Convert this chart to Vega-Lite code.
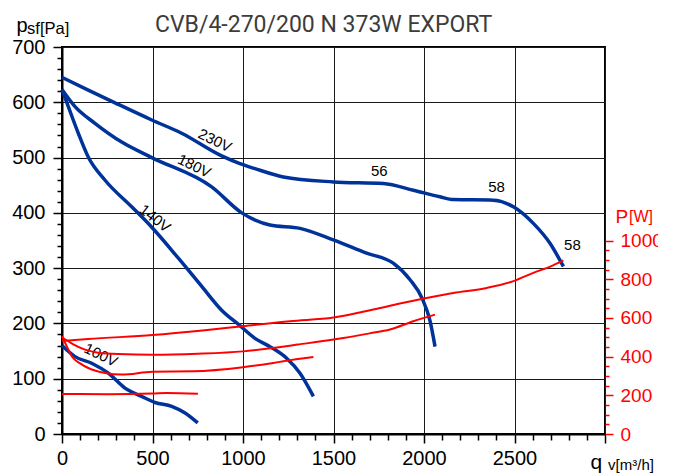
{
  "$schema": "https://vega.github.io/schema/vega-lite/v6.json",
  "width": 543,
  "height": 387,
  "autosize": {"type": "none"},
  "padding": {"left": 62, "top": 47, "right": 53, "bottom": 41},
  "background": "#ffffff",
  "config": {
    "view": {"stroke": "#000000", "strokeWidth": 2},
    "axis": {"labelFont": "Liberation Sans", "titleFont": "Liberation Sans", "titleFontWeight": "normal", "labelOverlap": false, "labelFlush": false, "labelBound": false}
  },
  "title": {
    "text": "CVB/4-270/200 N 373W EXPORT",
    "anchor": "start",
    "frame": "group",
    "dx": 93,
    "dy": 40,
    "offset": 0,
    "baseline": "alphabetic",
    "font": "Roboto",
    "fontSize": 23,
    "fontWeight": "normal",
    "color": "#3c3c3c"
  },
  "datasets": {
    "pressure": [
      {"series": "230V", "q": 0, "p": 645}, {"series": "230V", "q": 145, "p": 622}, {"series": "230V", "q": 293, "p": 599}, {"series": "230V", "q": 496, "p": 568}, {"series": "230V", "q": 661, "p": 544}, {"series": "230V", "q": 882, "p": 503}, {"series": "230V", "q": 983, "p": 489}, {"series": "230V", "q": 1066, "p": 480}, {"series": "230V", "q": 1223, "p": 465}, {"series": "230V", "q": 1499, "p": 456}, {"series": "230V", "q": 1775, "p": 453}, {"series": "230V", "q": 1941, "p": 441}, {"series": "230V", "q": 2088, "p": 429}, {"series": "230V", "q": 2162, "p": 424}, {"series": "230V", "q": 2383, "p": 423}, {"series": "230V", "q": 2494, "p": 411}, {"series": "230V", "q": 2604, "p": 381}, {"series": "230V", "q": 2696, "p": 345}, {"series": "230V", "q": 2770, "p": 303},
      {"series": "180V", "q": 0, "p": 623}, {"series": "180V", "q": 72, "p": 592}, {"series": "180V", "q": 182, "p": 562}, {"series": "180V", "q": 330, "p": 528}, {"series": "180V", "q": 496, "p": 500}, {"series": "180V", "q": 827, "p": 447}, {"series": "180V", "q": 993, "p": 400}, {"series": "180V", "q": 1149, "p": 378}, {"series": "180V", "q": 1315, "p": 372}, {"series": "180V", "q": 1499, "p": 351}, {"series": "180V", "q": 1683, "p": 327}, {"series": "180V", "q": 1830, "p": 309}, {"series": "180V", "q": 1923, "p": 279}, {"series": "180V", "q": 1990, "p": 245}, {"series": "180V", "q": 2033, "p": 205}, {"series": "180V", "q": 2061, "p": 158},
      {"series": "140V", "q": 0, "p": 623}, {"series": "140V", "q": 35, "p": 592}, {"series": "140V", "q": 90, "p": 544}, {"series": "140V", "q": 145, "p": 501}, {"series": "140V", "q": 238, "p": 459}, {"series": "140V", "q": 385, "p": 411}, {"series": "140V", "q": 496, "p": 374}, {"series": "140V", "q": 643, "p": 318}, {"series": "140V", "q": 772, "p": 267}, {"series": "140V", "q": 882, "p": 224}, {"series": "140V", "q": 983, "p": 196}, {"series": "140V", "q": 1066, "p": 173}, {"series": "140V", "q": 1149, "p": 158}, {"series": "140V", "q": 1241, "p": 137}, {"series": "140V", "q": 1315, "p": 110}, {"series": "140V", "q": 1389, "p": 68},
      {"series": "100V", "q": 0, "p": 160}, {"series": "100V", "q": 72, "p": 140}, {"series": "100V", "q": 164, "p": 128}, {"series": "100V", "q": 256, "p": 110}, {"series": "100V", "q": 348, "p": 83}, {"series": "100V", "q": 440, "p": 68}, {"series": "100V", "q": 514, "p": 57}, {"series": "100V", "q": 606, "p": 50}, {"series": "100V", "q": 680, "p": 38}, {"series": "100V", "q": 750, "p": 20}
    ],
    "power": [
      {"series": "230V", "q": 0, "w": 480}, {"series": "230V", "q": 145, "w": 491}, {"series": "230V", "q": 500, "w": 511}, {"series": "230V", "q": 790, "w": 536}, {"series": "230V", "q": 1000, "w": 557}, {"series": "230V", "q": 1260, "w": 583}, {"series": "230V", "q": 1500, "w": 602}, {"series": "230V", "q": 1720, "w": 643}, {"series": "230V", "q": 1867, "w": 674}, {"series": "230V", "q": 2000, "w": 700}, {"series": "230V", "q": 2162, "w": 729}, {"series": "230V", "q": 2346, "w": 755}, {"series": "230V", "q": 2494, "w": 790}, {"series": "230V", "q": 2604, "w": 833}, {"series": "230V", "q": 2700, "w": 866}, {"series": "230V", "q": 2770, "w": 897},
      {"series": "180V", "q": 0, "w": 500}, {"series": "180V", "q": 60, "w": 465}, {"series": "180V", "q": 127, "w": 436}, {"series": "180V", "q": 200, "w": 420}, {"series": "180V", "q": 311, "w": 413}, {"series": "180V", "q": 500, "w": 410}, {"series": "180V", "q": 750, "w": 415}, {"series": "180V", "q": 1000, "w": 427}, {"series": "180V", "q": 1167, "w": 445}, {"series": "180V", "q": 1300, "w": 462}, {"series": "180V", "q": 1500, "w": 488}, {"series": "180V", "q": 1700, "w": 520}, {"series": "180V", "q": 1812, "w": 540}, {"series": "180V", "q": 1941, "w": 583}, {"series": "180V", "q": 2061, "w": 617},
      {"series": "140V", "q": 0, "w": 505}, {"series": "140V", "q": 28, "w": 450}, {"series": "140V", "q": 54, "w": 402}, {"series": "140V", "q": 100, "w": 365}, {"series": "140V", "q": 145, "w": 341}, {"series": "140V", "q": 238, "w": 315}, {"series": "140V", "q": 330, "w": 307}, {"series": "140V", "q": 500, "w": 322}, {"series": "140V", "q": 727, "w": 324}, {"series": "140V", "q": 1000, "w": 345}, {"series": "140V", "q": 1167, "w": 367}, {"series": "140V", "q": 1223, "w": 376}, {"series": "140V", "q": 1389, "w": 398},
      {"series": "100V", "q": 0, "w": 207}, {"series": "100V", "q": 250, "w": 206}, {"series": "100V", "q": 500, "w": 209}, {"series": "100V", "q": 578, "w": 212}, {"series": "100V", "q": 751, "w": 208}
    ]
  },
  "resolve": {"scale": {"y": "independent"}, "axis": {"y": "independent"}},
  "layer": [
    {
      "layer": [
        {
          "data": {"name": "pressure"},
          "mark": {"type": "line", "color": "#00339a", "strokeWidth": 3.5, "interpolate": "monotone", "strokeCap": "butt"},
          "encoding": {
            "x": {
              "field": "q", "type": "quantitative",
              "scale": {"domain": [0, 3000], "nice": false, "zero": false},
              "axis": {
                "values": [0,100,200,300,400,500,600,700,800,900,1000,1100,1200,1300,1400,1500,1600,1700,1800,1900,2000,2100,2200,2300,2400,2500,2600,2700,2800,2900,3000],
                "tickCount": 1000,
                "format": "d",
                "labelExpr": "datum.value % 500 === 0 && datum.value < 3000 ? datum.label : ''",
                "tickSize": {"condition": {"test": "datum.value % 500 === 0", "value": 9}, "value": 6},
                "tickColor": "#000000", "tickWidth": 1.5,
                "domainColor": "#000000", "domainWidth": 2,
                "grid": true, "gridColor": "#1a1a1a", "gridWidth": 1,
                "gridOpacity": {"condition": {"test": "datum.value % 500 === 0", "value": 1}, "value": 0},
                "labelFontSize": 20, "labelColor": "#000000", "labelPadding": 5,
                "title": "q", "titleFontSize": 21, "titleColor": "#000000",
                "titleX": 528, "titleY": 34, "titleAlign": "left", "titleBaseline": "alphabetic", "titleAnchor": null
              }
            },
            "y": {
              "field": "p", "type": "quantitative",
              "scale": {"domain": [0, 700], "nice": false},
              "axis": {
                "orient": "left",
                "values": [0,20,40,60,80,100,120,140,160,180,200,220,240,260,280,300,320,340,360,380,400,420,440,460,480,500,520,540,560,580,600,620,640,660,680,700],
                "tickCount": 1000,
                "format": "d",
                "labelExpr": "datum.value % 100 === 0 ? datum.label : ''",
                "tickSize": {"condition": {"test": "datum.value % 100 === 0", "value": 9}, "value": 5},
                "tickColor": "#000000", "tickWidth": 1.5,
                "domainColor": "#000000", "domainWidth": 2,
                "grid": true, "gridColor": "#1a1a1a", "gridWidth": 1,
                "gridOpacity": {"condition": {"test": "datum.value % 100 === 0", "value": 1}, "value": 0},
                "labelFontSize": 20, "labelColor": "#000000", "labelPadding": 8,
                "title": "p", "titleFontSize": 20, "titleColor": "#000000", "titleAngle": 0,
                "titleX": -46, "titleY": -16, "titleAlign": "left", "titleBaseline": "alphabetic", "titleAnchor": null
              }
            },
            "detail": {"field": "series"}
          }
        },
        {
          "data": {"values": [{"label": "sf[Pa]", "q": -193, "p": 723}]},
          "mark": {"type": "text", "font": "Liberation Sans", "fontSize": 16.5, "align": "left", "baseline": "alphabetic", "color": "#000000"},
          "encoding": {"x": {"field": "q", "type": "quantitative"}, "y": {"field": "p", "type": "quantitative"}, "text": {"field": "label"}}
        },
        {
          "data": {"values": [{"label": "v[m³/h]", "q": 3017, "p": -66}]},
          "mark": {"type": "text", "font": "Liberation Sans", "fontSize": 15, "align": "left", "baseline": "alphabetic", "color": "#000000"},
          "encoding": {"x": {"field": "q", "type": "quantitative"}, "y": {"field": "p", "type": "quantitative"}, "text": {"field": "label"}}
        },
        {
          "data": {"values": [{"label": "[W]", "q": 3133, "p": 384}]},
          "mark": {"type": "text", "font": "Liberation Sans", "fontSize": 16, "align": "left", "baseline": "alphabetic", "color": "#ff0000"},
          "encoding": {"x": {"field": "q", "type": "quantitative"}, "y": {"field": "p", "type": "quantitative"}, "text": {"field": "label"}}
        },
        {
          "data": {"values": [{"label": "230V", "q": 845, "p": 531}, {"label": "180V", "q": 731, "p": 485}, {"label": "100V", "q": 215, "p": 143}]},
          "mark": {"type": "text", "font": "Liberation Sans", "fontSize": 15, "align": "center", "baseline": "middle", "angle": 26, "color": "#000000"},
          "encoding": {"x": {"field": "q", "type": "quantitative"}, "y": {"field": "p", "type": "quantitative"}, "text": {"field": "label"}}
        },
        {
          "data": {"values": [{"label": "140V", "q": 514, "p": 390}]},
          "mark": {"type": "text", "font": "Liberation Sans", "fontSize": 15, "align": "center", "baseline": "middle", "angle": 38, "color": "#000000"},
          "encoding": {"x": {"field": "q", "type": "quantitative"}, "y": {"field": "p", "type": "quantitative"}, "text": {"field": "label"}}
        },
        {
          "data": {"values": [{"label": "56", "q": 1753, "p": 476}, {"label": "58", "q": 2401, "p": 446}, {"label": "58", "q": 2820, "p": 341}]},
          "mark": {"type": "text", "font": "Liberation Sans", "fontSize": 15, "align": "center", "baseline": "middle", "color": "#000000"},
          "encoding": {"x": {"field": "q", "type": "quantitative"}, "y": {"field": "p", "type": "quantitative"}, "text": {"field": "label"}}
        }
      ]
    },
    {
      "data": {"name": "power"},
      "mark": {"type": "line", "color": "#ff0000", "strokeWidth": 2, "interpolate": "monotone"},
      "encoding": {
        "x": {"field": "q", "type": "quantitative"},
        "y": {
          "field": "w", "type": "quantitative",
          "scale": {"domain": [0, 2000], "nice": false},
          "axis": {
            "orient": "right",
            "values": [0,50,100,150,200,250,300,350,400,450,500,550,600,650,700,750,800,850,900,950,1000],
            "tickCount": 1000,
            "format": "d",
            "labelExpr": "datum.value % 200 === 0 ? datum.label : ''",
            "tickSize": {"condition": {"test": "datum.value % 200 === 0", "value": 8}, "value": 4},
            "tickColor": "#ff0000", "tickWidth": 1.5,
            "domain": false, "grid": false,
            "labelFontSize": 19, "labelColor": "#ff0000", "labelPadding": 7,
            "title": "P", "titleFontSize": 19, "titleColor": "#ff0000", "titleAngle": 0,
            "titleX": 10, "titleY": 175, "titleAlign": "left", "titleBaseline": "alphabetic", "titleAnchor": null
          }
        },
        "detail": {"field": "series"}
      }
    }
  ]
}
